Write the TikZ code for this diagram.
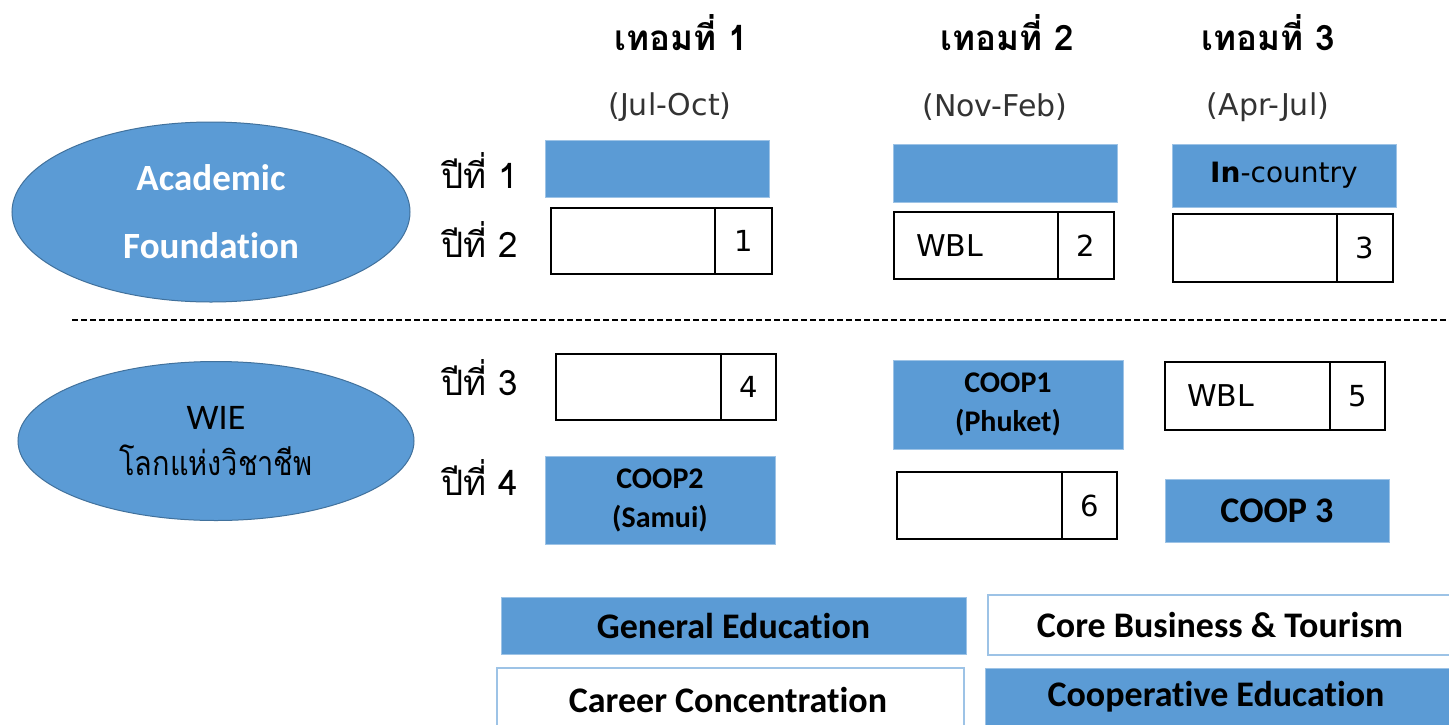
\documentclass[tikz,border=0pt]{standalone}
\usepackage{fontspec}
\setmainfont{Carlito}[Ligatures={NoCommon,NoContextual,NoRare},Contextuals=NoAlternate]
\newfontfamily\thai[Script=Thai]{Loma}
\newfontfamily\thaic[Script=Thai,FakeStretch=0.85]{Loma}
\newfontfamily\dv{DejaVu Sans}
\newcommand\tisep{t\kern0pt i}
\usetikzlibrary{shapes.geometric}
\definecolor{cblue}{HTML}{5B9BD5}
\definecolor{cedge}{HTML}{41719C}
\definecolor{clight}{HTML}{9DC3E6}
\tikzset{
  oval/.style={ellipse, fill=cblue, draw=cedge, line width=1pt, inner sep=0pt, align=center},
  bluebox/.style={rectangle, fill=cblue, draw=clight, line width=0.8pt, inner sep=0pt, align=center},
  whitebox/.style={rectangle, fill=white, draw=black, line width=1.6pt, inner sep=0pt},
  legwhite/.style={rectangle, fill=white, draw=clight, line width=1.6pt, inner sep=0pt},
  numtxt/.style={font=\dv\fontsize{29}{30}\selectfont},
  wbltxt/.style={font=\dv\fontsize{30}{32}\selectfont, align=left},
  yeartxt/.style={inner sep=0pt, font=\thai\fontsize{35}{36}\selectfont},
  termtxt/.style={inner sep=0pt, font=\thai\bfseries\fontsize{35}{36}\selectfont},
  monthtxt/.style={inner sep=0pt, font=\dv\fontsize{30}{32}\selectfont, text=black!80},
  legtxt/.style={font=\bfseries\fontsize{36}{40}\selectfont},
  cooptxt/.style={font=\bfseries\fontsize{30}{39}\selectfont},
}
\begin{document}
\begin{tikzpicture}[x=1pt,y=-1pt]
\useasboundingbox (0,0) rectangle (1449,724);
\clip (0,0) rectangle (1449,724);
\fill[white] (0,0) rectangle (1449,724);

% ellipses
\node[oval, minimum width=398, minimum height=180, text=white,
      font=\bfseries\fontsize{37}{68}\selectfont] (acad) at (211,212) {Academic\\Founda\tisep on};
\node[oval, minimum width=396, minimum height=159, text=black,
      font=\fontsize{36}{46}\selectfont] (wie) at (216,441) {WIE\\{\thaic\fontsize{34}{46}\selectfont โลกแห่งวิชาชีพ}};

% headers
\node[termtxt] (t1) at (681,33) {เทอมที่ 1};
\node[termtxt] (t2) at (1007,33) {เทอมที่ 2};
\node[termtxt] (t3) at (1268,33) {เทอมที่ 3};
\node[monthtxt] (m1) at (670,107) {(Jul-Oct)};
\node[monthtxt] (m2) at (995,107) {(Nov-Feb)};
\node[monthtxt] (m3) at (1268,107) {(Apr-Jul)};

% year labels
\node[yeartxt] (y1) at (480,170) {ปีที่ 1};
\node[yeartxt] (y2) at (480,239) {ปีที่ 2};
\node[yeartxt] (y3) at (480,378) {ปีที่ 3};
\node[yeartxt] (y4) at (480,477) {ปีที่ 4};

% year 1
\node[bluebox, minimum width=224, minimum height=57] (a1) at (657,168.5) {};
\node[bluebox, minimum width=224, minimum height=58] (a2) at (1005,173) {};
\node[bluebox, minimum width=224, minimum height=63, font=\dv\fontsize{28}{30}\selectfont] (a3) at (1284,175.5) {\raisebox{3pt}{{\bfseries In}-country}};

% year 2
\node[whitebox, minimum width=164, minimum height=66] (b1) at (633,241) {};
\node[whitebox, minimum width=57, minimum height=66, numtxt] (b1n) at (743.5,241) {1};
\node[whitebox, minimum width=164, minimum height=67, wbltxt, text width=120] (b2) at (976,245.5) {WBL};
\node[whitebox, minimum width=56, minimum height=67, numtxt] (b2n) at (1086,245.5) {2};
\node[whitebox, minimum width=164, minimum height=68] (b3) at (1255,248) {};
\node[whitebox, minimum width=56, minimum height=68, numtxt] (b3n) at (1365,248) {3};

% divider
\coordinate (dl) at (72,320);
\coordinate (dr) at (1449,320);
\draw[line width=1.3pt, dash pattern=on 6pt off 3pt] (dl) -- (dr);

% year 3
\node[whitebox, minimum width=165, minimum height=66] (c1) at (638.5,387) {};
\node[whitebox, minimum width=55, minimum height=66, numtxt] (c1n) at (748.5,387) {4};
\node[bluebox, minimum width=230, minimum height=89, cooptxt] (c2) at (1008,404.5) {COOP1\\(Phuket)};
\node[whitebox, minimum width=165, minimum height=68, wbltxt, text width=121] (c3) at (1247.5,396) {\raisebox{1pt}{WBL}};
\node[whitebox, minimum width=55, minimum height=68, numtxt] (c3n) at (1357.5,396) {5};

% year 4
\node[bluebox, minimum width=230, minimum height=88, cooptxt] (d1) at (660,500) {COOP2\\(Samui)};
\node[whitebox, minimum width=165, minimum height=67] (d2) at (979.5,505.5) {};
\node[whitebox, minimum width=55, minimum height=67, numtxt] (d2n) at (1089.5,505.5) {6};
\node[bluebox, minimum width=224, minimum height=63, legtxt] (d3) at (1277,510.5) {COOP 3};

% legend
\node[bluebox, minimum width=465, minimum height=57, legtxt] (l1) at (733.5,625.5) {General Educa\tisep on};
\node[legwhite, minimum width=464, minimum height=60] (l2) at (1220,625) {};
\node[legtxt] (l2t) at (1220,625) {Core Business \& Tourism};
\node[legwhite, minimum width=467, minimum height=62] (l3) at (730.5,699) {};
\node[legtxt] (l3t) at (728,700) {Career Concentra\tisep on};
\node[bluebox, minimum width=467, minimum height=62] (l4) at (1218.5,699) {};
\node[legtxt] (l4t) at (1216,697) {Coopera\tisep ve Educa\tisep on};
\end{tikzpicture}
\end{document}
